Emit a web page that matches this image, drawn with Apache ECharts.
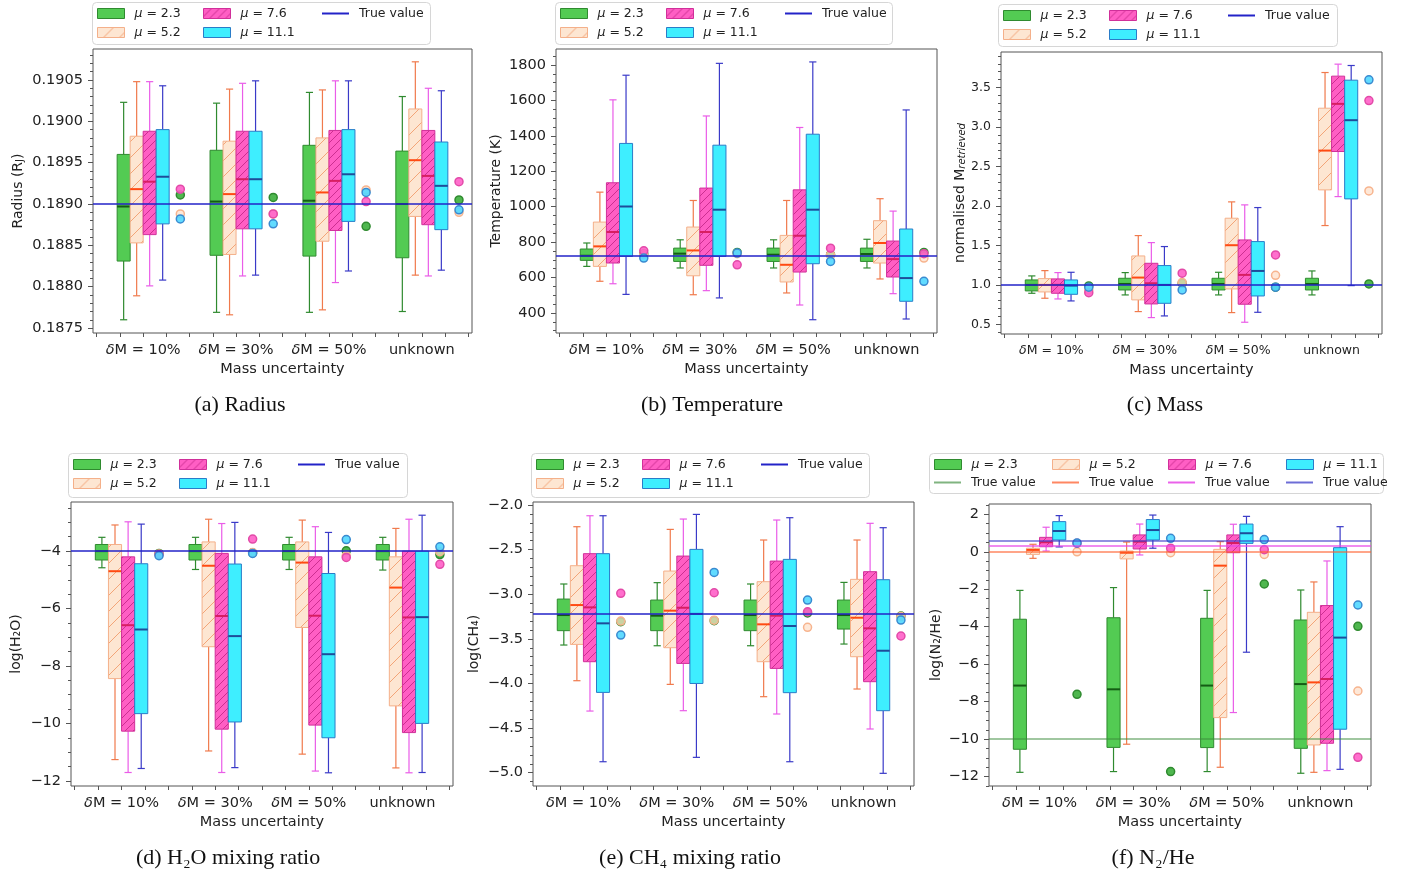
<!DOCTYPE html>
<html><head><meta charset="utf-8">
<script src="https://cdn.jsdelivr.net/npm/echarts@6/dist/echarts.min.js"></script>
<style>html,body{margin:0;padding:0;background:#fff}#c{width:1403px;height:874px}</style>
</head><body><div id="c"></div>
<script>
// ---------------- DATA ----------------
const groupLabels = ['δM = 10%', 'δM = 30%', 'δM = 50%', 'unknown'];
const muNames = ['μ = 2.3', 'μ = 5.2', 'μ = 7.6', 'μ = 11.1'];
// each box: [lower whisker, Q1, median, Q3, upper whisker], one per group
// (a) Radius
const radius_mu23  = [[0.18760,0.18831,0.18897,0.18960,0.19023],[0.18769,0.18838,0.18903,0.18965,0.19022],[0.18769,0.18837,0.18904,0.18971,0.19035],[0.18770,0.18835,0.18900,0.18964,0.19030]];
const radius_mu52  = [[0.18789,0.18853,0.18918,0.18982,0.19048],[0.18766,0.18839,0.18912,0.18976,0.19039],[0.18772,0.18855,0.18914,0.18980,0.19038],[0.18814,0.18885,0.18953,0.19015,0.19072]];
const radius_mu76  = [[0.18801,0.18863,0.18927,0.18988,0.19048],[0.18813,0.18870,0.18930,0.18988,0.19046],[0.18805,0.18868,0.18928,0.18989,0.19049],[0.18813,0.18875,0.18934,0.18989,0.19040]];
const radius_mu111 = [[0.18808,0.18876,0.18933,0.18990,0.19043],[0.18814,0.18870,0.18930,0.18988,0.19049],[0.18819,0.18879,0.18936,0.18990,0.19049],[0.18820,0.18869,0.18922,0.18975,0.19037]];
const radiusPts = [[0.18911,0.18908,0.18873,0.18905],[0.18888,0.18888,0.18917,0.18890],[0.18918,0.18888,0.18903,0.18927],[0.18882,0.18876,0.18914,0.18893]];
const radiusTrue = [0.1890];
const radiusTicks = [0.1875,0.1880,0.1885,0.1890,0.1895,0.1900,0.1905];
// (b) Temperature
const temp_mu23  = [[663,697,723,761,795],[654,691,735,766,813],[654,691,729,766,813],[654,691,733,766,816]];
const temp_mu52  = [[579,663,776,913,1082],[503,610,753,885,1035],[513,575,672,838,1035],[592,682,795,921,1045]];
const temp_mu76  = [[565,682,857,1135,1603],[526,669,857,1105,1512],[445,631,836,1095,1447],[509,603,704,806,975]];
const temp_mu111 = [[505,719,1001,1357,1742],[485,719,983,1347,1809],[362,678,983,1409,1817],[366,466,597,874,1546]];
const tempPts = [[733,742,729,742],[730,735,728,710],[751,672,766,735],[710,738,691,579]];
const tempTrue = [722];
const tempTicks = [400,600,800,1000,1200,1400,1600,1800];
// (c) Mass
const mass_mu23  = [[0.893,0.923,0.999,1.062,1.113],[0.872,0.935,1.011,1.083,1.155],[0.872,0.935,1.011,1.083,1.159],[0.872,0.935,1.011,1.083,1.176]];
const mass_mu52  = [[0.830,0.910,0.999,1.079,1.180],[0.661,0.809,1.092,1.366,1.624],[0.648,0.948,1.502,1.844,2.051],[1.751,2.203,2.701,3.238,3.690]];
const mass_mu76  = [[0.821,0.893,1.000,1.075,1.155],[0.585,0.758,1.020,1.273,1.535],[0.526,0.754,1.126,1.569,2.013],[2.118,2.689,3.293,3.644,3.796]];
const mass_mu111 = [[0.796,0.880,0.990,1.062,1.159],[0.606,0.766,0.999,1.244,1.485],[0.652,0.859,1.176,1.548,1.979],[0.990,2.089,3.086,3.593,3.779]];
const massPts = [[0.986,1.02,0.97,1.011],[0.935,1.03,1.121,2.19],[0.90,1.147,1.379,3.335],[0.97,0.935,0.97,3.597]];
const massTrue = [1.0];
const massTicks = [0.5,1.0,1.5,2.0,2.5,3.0,3.5];
// (d) H2O
const h2o_mu23  = [[-4.58,-4.31,-4.0,-3.77,-3.52],[-4.64,-4.31,-4.0,-3.77,-3.52],[-4.64,-4.31,-4.0,-3.77,-3.52],[-4.66,-4.31,-4.0,-3.77,-3.52]];
const h2o_mu52  = [[-11.26,-8.44,-4.70,-3.77,-3.09],[-10.96,-7.33,-4.51,-3.68,-2.89],[-11.07,-6.66,-4.40,-3.68,-2.92],[-11.55,-9.39,-5.27,-4.20,-3.21]];
const h2o_mu76  = [[-11.71,-10.27,-6.58,-4.20,-2.98],[-11.71,-10.20,-6.26,-4.08,-3.04],[-11.66,-10.06,-6.25,-4.20,-3.15],[-11.72,-10.32,-6.31,-4.0,-2.89]];
const h2o_mu111 = [[-11.57,-9.66,-6.73,-4.44,-3.06],[-11.54,-9.95,-6.96,-4.45,-3.0],[-11.72,-10.50,-7.59,-4.78,-3.35],[-11.71,-10.0,-6.30,-4.0,-2.75]];
const h2oPts = [[-4.08,-4.06,-3.99,-4.12],[-4.10,-4.05,-4.16,-4.02],[-4.12,-3.58,-4.22,-4.46],[-4.16,-4.08,-3.60,-3.85]];
const h2oTrue = [-4];
const h2oTicks = [-12,-10,-8,-6,-4];
// (e) CH4
const ch4_mu23  = [[-3.569,-3.408,-3.233,-3.054,-2.885],[-3.577,-3.408,-3.24,-3.065,-2.87],[-3.577,-3.408,-3.233,-3.065,-2.885],[-3.558,-3.39,-3.233,-3.065,-2.867]];
const ch4_mu52  = [[-3.969,-3.562,-3.121,-2.68,-2.243],[-4.01,-3.599,-3.184,-2.74,-2.273],[-4.148,-3.756,-3.337,-2.859,-2.392],[-4.062,-3.7,-3.263,-2.833,-2.392]];
const ch4_mu76  = [[-4.309,-3.756,-3.147,-2.545,-2.12],[-4.305,-3.775,-3.151,-2.572,-2.157],[-4.342,-3.831,-3.24,-2.628,-2.168],[-4.51,-3.98,-3.382,-2.747,-2.205]];
const ch4_mu111 = [[-4.877,-4.1,-3.326,-2.545,-2.12],[-4.828,-4.0,-3.22,-2.497,-2.105],[-4.877,-4.103,-3.356,-2.609,-2.142],[-5.007,-4.305,-3.633,-2.837,-2.254]];
const ch4Pts = [[-3.308,-3.296,-3.21,-3.245],[-3.30,-3.29,-3.371,-3.25],[-2.99,-2.983,-3.196,-3.468],[-3.457,-2.755,-3.065,-3.289]];
const ch4True = [-3.22];
const ch4Ticks = [-5.0,-4.5,-4.0,-3.5,-3.0,-2.5,-2.0];
// (f) N2/He
const n2he_mu23  = [[-11.77,-10.54,-7.14,-3.60,-2.06],[-11.73,-10.44,-7.34,-3.52,-1.91],[-11.73,-10.45,-7.14,-3.55,-2.06],[-11.82,-10.49,-7.06,-3.64,-2.04]];
const n2he_mu52  = [[-0.35,-0.14,0.10,0.19,0.40],[-10.27,-0.38,-0.05,0.04,0.52],[-11.50,-8.85,-0.74,0.13,0.54],[-11.77,-10.31,-6.97,-3.23,-1.61]];
const n2he_mu76  = [[0.04,0.27,0.51,0.77,1.31],[-0.17,0.15,0.54,0.90,1.48],[-8.58,-0.05,0.47,0.90,1.47],[-11.68,-10.22,-6.79,-2.87,-0.49]];
const n2he_mu111 = [[0.26,0.63,1.11,1.61,1.93],[0.19,0.63,1.16,1.72,1.96],[-5.36,0.45,0.99,1.48,1.89],[-11.61,-9.47,-4.58,0.22,1.34]];
const n2hePts = [[-7.61,-11.73,-1.72,-3.98],[0.0,-0.05,-0.14,-7.43],[0.45,0.19,0.11,-10.97],[0.47,0.72,0.65,-2.84]];
const n2heTrue = [-10, 0, 0.3, 0.6];
const n2heTicks = [-12,-10,-8,-6,-4,-2,0,2];

// ---------------- STYLE / LAYOUT ----------------
const FONT = 'DejaVu Sans';
const SERIF = 'Liberation Serif, DejaVu Serif, serif';
const XMIN = -0.54, XMAX = 3.54;
const BOX_OFF = [-0.21, -0.07, 0.07, 0.21], BOX_W = 0.14, PT_OFF = 0.4;

function hatch(size, bg, lineColor, lw) {
  const c = document.createElement('canvas'); c.width = c.height = size;
  const g = c.getContext('2d');
  g.fillStyle = bg; g.fillRect(0, 0, size, size);
  g.strokeStyle = lineColor; g.lineWidth = lw; g.beginPath();
  for (let k = -1; k <= 1; k++) { g.moveTo(k * size, size); g.lineTo(k * size + size, 0); }
  g.stroke();
  return { image: c, repeat: 'repeat' };
}
const STY = [
  { fill: 'rgba(40,190,40,0.8)', edge: '#2f8a2f', med: '#145c14', wh: '#2f8a2f',
    ptFill: 'rgba(60,175,60,0.9)', ptEdge: '#2f8a2f' },
  { fill: hatch(16, '#fde6d2', '#f3a578', 1), edge: '#f4b08a', med: '#ff4a12', wh: '#f07a4c',
    ptFill: 'rgba(253,222,200,0.7)', ptEdge: '#f7b48e' },
  { fill: hatch(8, '#ff5ec4', '#cc2e90', 1), edge: '#d0309a', med: '#d81e62', wh: '#ea5ce8',
    ptFill: 'rgba(255,95,200,0.9)', ptEdge: '#e24aa8' },
  { fill: '#3eeeff', edge: '#2a7cc8', med: '#1e4c9a', wh: '#3a3ac8',
    ptFill: 'rgba(80,215,255,0.9)', ptEdge: '#3a8ad0' }
];
const TRUE_COLOR = '#2323c8';
const F_TRUE_COLORS = ['rgba(60,140,60,0.65)', 'rgba(255,95,45,0.75)', 'rgba(230,70,230,0.85)', 'rgba(60,60,200,0.75)'];

function fmt(dec) { return v => (dec === 0 ? String(Math.round(v)) : v.toFixed(dec)).replace('-', '−'); }
function minors(min, max, step, majors) {
  const out = [];
  for (let k = Math.ceil(min / step - 1e-9); k <= Math.floor(max / step + 1e-9); k++) {
    const v = +(k * step).toFixed(8);
    if (!majors.some(m => Math.abs(m - v) < step * 1e-3)) out.push(v);
  }
  return out;
}

const panels = [
  { boxes: [radius_mu23, radius_mu52, radius_mu76, radius_mu111], pts: radiusPts, truth: radiusTrue,
    ticks: radiusTicks, step: 0.0001, min: 0.18744, max: 0.190875, dec: 4, fs: 14.5,
    grid: [93, 49, 379, 284], yName: '{n|Radius (R}{s|J}{n|)}', nameGap: 68,
    caption: '(a) Radius', cap: [240, 394], frame: [92, 2, 338, 42] },
  { boxes: [temp_mu23, temp_mu52, temp_mu76, temp_mu111], pts: tempPts, truth: tempTrue,
    ticks: tempTicks, step: 50, min: 287, max: 1890, dec: 0, fs: 14.5,
    grid: [556, 49, 381, 284], yName: '{n|Temperature (K)}', nameGap: 53,
    caption: '(b) Temperature', cap: [712, 394], frame: [555, 2, 337, 42] },
  { boxes: [mass_mu23, mass_mu52, mass_mu76, mass_mu111], pts: massPts, truth: massTrue,
    ticks: massTicks, step: 0.1, min: 0.377, max: 3.95, dec: 1, fs: 12.5,
    grid: [1001, 52, 381, 282], yName: '{n|normalised M}{si|retrieved}', nameGap: 27,
    caption: '(c) Mass', cap: [1165, 394], frame: [998, 4, 339, 42] },
  { boxes: [h2o_mu23, h2o_mu52, h2o_mu76, h2o_mu111], pts: h2oPts, truth: h2oTrue,
    ticks: h2oTicks, step: 0.5, min: -12.18, max: -2.29, dec: 0, fs: 14.5,
    grid: [71, 502, 382, 284], yName: '{n|log(H₂O)}', nameGap: 48,
    caption: '(d) H₂O mixing ratio', cap: [228, 847], frame: [68, 453, 339, 44] },
  { boxes: [ch4_mu23, ch4_mu52, ch4_mu76, ch4_mu111], pts: ch4Pts, truth: ch4True,
    ticks: ch4Ticks, step: 0.1, min: -5.149, max: -1.966, dec: 1, fs: 14.5,
    grid: [533, 502, 381, 284], yName: '{n|log(CH₄)}', nameGap: 52,
    caption: '(e) CH₄ mixing ratio', cap: [690, 847], frame: [531, 453, 338, 44] },
  { boxes: [n2he_mu23, n2he_mu52, n2he_mu76, n2he_mu111], pts: n2hePts, truth: n2heTrue,
    ticks: n2heTicks, step: 0.5, min: -12.5, max: 2.55, dec: 0, fs: 14.5,
    grid: [989, 504, 382, 282], yName: '{n|log(N₂/He)}', nameGap: 46,
    caption: '(f) N₂/He', cap: [1153, 847], frame: [929, 453, 454, 40] }
];

function makeRender(m) {
  const st = STY[m];
  return function (params, api) {
    const x = api.value(0);
    const lo = api.coord([x, api.value(1)]), q1 = api.coord([x, api.value(2)]),
      md = api.coord([x, api.value(3)]), q3 = api.coord([x, api.value(4)]), hi = api.coord([x, api.value(5)]);
    const w = api.size([BOX_W, 0])[0], cw = w * 0.55, cx = lo[0];
    const ls = { stroke: st.wh, lineWidth: 1.2 };
    return { type: 'group', children: [
      { type: 'line', shape: { x1: cx, y1: lo[1], x2: cx, y2: q1[1] }, style: ls },
      { type: 'line', shape: { x1: cx, y1: q3[1], x2: cx, y2: hi[1] }, style: ls },
      { type: 'line', shape: { x1: cx - cw / 2, y1: lo[1], x2: cx + cw / 2, y2: lo[1] }, style: ls },
      { type: 'line', shape: { x1: cx - cw / 2, y1: hi[1], x2: cx + cw / 2, y2: hi[1] }, style: ls },
      { type: 'rect', shape: { x: cx - w / 2, y: q3[1], width: w, height: q1[1] - q3[1] },
        style: { fill: st.fill, stroke: st.edge, lineWidth: 1 } },
      { type: 'line', shape: { x1: cx - w / 2, y1: md[1], x2: cx + w / 2, y2: md[1] },
        style: { stroke: st.med, lineWidth: 2 } }
    ] };
  };
}

const grid = [], xAxis = [], yAxis = [], series = [], legend = [], title = [], graphic = [];
const tickLine = { color: '#555', width: 1 };

panels.forEach((p, k) => {
  const axisText = { fontFamily: FONT, fontSize: p.fs, color: '#222' };
  const xRich = { i: { fontFamily: FONT, fontSize: p.fs, color: '#222', fontStyle: 'italic' } };
  grid.push({ left: p.grid[0], top: p.grid[1], width: p.grid[2], height: p.grid[3],
    show: true, borderColor: '#555', borderWidth: 1, backgroundColor: 'transparent' });
  const xt = []; for (let v = -0.5; v <= 3.5001; v += 0.25) xt.push(+v.toFixed(2));
  xAxis.push({ gridIndex: k, type: 'value', position: 'bottom', min: XMIN, max: XMAX,
    splitLine: { show: false }, axisLine: { show: false, onZero: false },
    axisTick: { show: true, customValues: xt, length: 4, lineStyle: tickLine },
    axisLabel: { customValues: [0, 1, 2, 3], margin: 10, ...axisText, rich: xRich,
      formatter: v => groupLabels[Math.round(v)].replace('δ', '{i|δ}') },
    name: 'Mass uncertainty', nameLocation: 'middle', nameGap: 29,
    nameTextStyle: { fontFamily: FONT, fontSize: 14.5, color: '#222' } });
  yAxis.push({ gridIndex: k, type: 'value', position: 'left', offset: 0, min: p.min, max: p.max,
    splitLine: { show: false }, axisLine: { show: false, onZero: false },
    axisTick: { show: true, customValues: p.ticks, length: 5, lineStyle: tickLine },
    axisLabel: { customValues: p.ticks, margin: 10, ...axisText, formatter: fmt(p.dec) },
    name: p.yName, nameLocation: 'middle', nameRotate: 90, nameGap: p.nameGap,
    nameTextStyle: { fontFamily: FONT, fontSize: 14, color: '#222', rich: {
      n: { fontFamily: FONT, fontSize: 14, color: '#222', lineHeight: 18, verticalAlign: 'bottom' },
      s: { fontFamily: FONT, fontSize: 10, color: '#222', lineHeight: 8, verticalAlign: 'bottom' },
      si: { fontFamily: FONT, fontSize: 10, color: '#222', fontStyle: 'italic', lineHeight: 8, verticalAlign: 'bottom' } } } });
  yAxis.push({ gridIndex: k, type: 'value', position: 'left', offset: 0, min: p.min, max: p.max,
    splitLine: { show: false }, axisLine: { show: false, onZero: false }, axisLabel: { show: false },
    axisTick: { show: true, customValues: minors(p.min, p.max, p.step, p.ticks), length: 3, lineStyle: tickLine } });

  for (let m = 0; m < 4; m++) {
    series.push({ type: 'custom', name: muNames[m], xAxisIndex: k, yAxisIndex: 2 * k, z: 2, silent: true,
      itemStyle: { color: typeof STY[m].fill === 'string' ? STY[m].fill : STY[m].edge },
      renderItem: makeRender(m), encode: { x: 0, y: [1, 2, 3, 4, 5] },
      data: p.boxes[m].map((b, g) => [g + BOX_OFF[m], ...b]) });
  }
  for (let m = 0; m < 4; m++) {
    series.push({ type: 'scatter', name: muNames[m], xAxisIndex: k, yAxisIndex: 2 * k, z: 3, silent: true,
      symbol: 'circle', symbolSize: 8,
      itemStyle: { color: STY[m].ptFill, borderColor: STY[m].ptEdge, borderWidth: 1.5, opacity: 1 },
      data: p.pts[m].map((v, g) => [g + PT_OFF, v]) });
  }
  const isF = p.truth.length > 1;
  p.truth.forEach((tv, j) => {
    const col = isF ? F_TRUE_COLORS[j] : TRUE_COLOR;
    series.push({ type: 'line', name: isF ? 'tvF' + j : 'True value', xAxisIndex: k, yAxisIndex: 2 * k,
      z: 5, symbol: 'none', data: [], color: col, lineStyle: { color: col, width: 1.5 },
      markLine: { silent: true, symbol: ['none', 'none'], precision: 8, label: { show: false },
        lineStyle: { color: col, width: 1.5, type: 'solid' }, emphasis: { disabled: true },
        data: [{ yAxis: tv }] } });
  });

  // legend frame
  const f = p.frame;
  graphic.push({ type: 'rect', left: f[0], top: f[1], z: 0,
    shape: { width: f[2], height: f[3], r: 4 },
    style: { fill: 'rgba(255,255,255,0.85)', stroke: '#d6d6d6', lineWidth: 1 } });

  const legText = { fontFamily: FONT, fontSize: 12.5, color: '#222', padding: [0, 0, 0, 5],
    rich: { i: { fontFamily: FONT, fontSize: 12.5, color: '#222', fontStyle: 'italic' } } };
  const mkLeg = (name, left, cy, lineCol, disp) => ({
    left: left, top: cy - 7, padding: 0, itemWidth: 27, itemHeight: lineCol ? 2 : 10, selectedMode: false,
    textStyle: legText,
    formatter: () => disp.replace('μ', '{i|μ}'),
    data: [lineCol ? { name: name, icon: 'rect', itemStyle: { color: lineCol, borderWidth: 0 } } :
      { name: name, icon: 'rect', itemStyle: { color: STY[muNames.indexOf(name)].fill,
        borderColor: STY[muNames.indexOf(name)].edge, borderWidth: 1 } }] });
  if (!isF) {
    const cols = [5, 111, 230], rows = [12, 31];
    legend.push(mkLeg(muNames[0], f[0] + cols[0], f[1] + rows[0], null, muNames[0]));
    legend.push(mkLeg(muNames[1], f[0] + cols[0], f[1] + rows[1], null, muNames[1]));
    legend.push(mkLeg(muNames[2], f[0] + cols[1], f[1] + rows[0], null, muNames[2]));
    legend.push(mkLeg(muNames[3], f[0] + cols[1], f[1] + rows[1], null, muNames[3]));
    legend.push(mkLeg('True value', f[0] + cols[2], f[1] + rows[0], TRUE_COLOR, 'True value'));
  } else {
    const cols = [5, 123, 239, 357], rows = [12, 30];
    for (let m = 0; m < 4; m++) {
      legend.push(mkLeg(muNames[m], f[0] + cols[m], f[1] + rows[0], null, muNames[m]));
      legend.push(mkLeg('tvF' + m, f[0] + cols[m], f[1] + rows[1], F_TRUE_COLORS[m], 'True value'));
    }
  }
  title.push({ text: p.caption, left: p.cap[0], top: p.cap[1], textAlign: 'center', padding: 0,
    textStyle: { fontFamily: SERIF, fontSize: 22, fontWeight: 'normal', color: '#111' } });
});

const chart = echarts.init(document.getElementById('c'), null, { renderer: 'canvas' });
chart.setOption({ animation: false, backgroundColor: '#fff', title, grid, xAxis, yAxis, series, legend, graphic,
  tooltip: { show: false } });
</script>
</body></html>
